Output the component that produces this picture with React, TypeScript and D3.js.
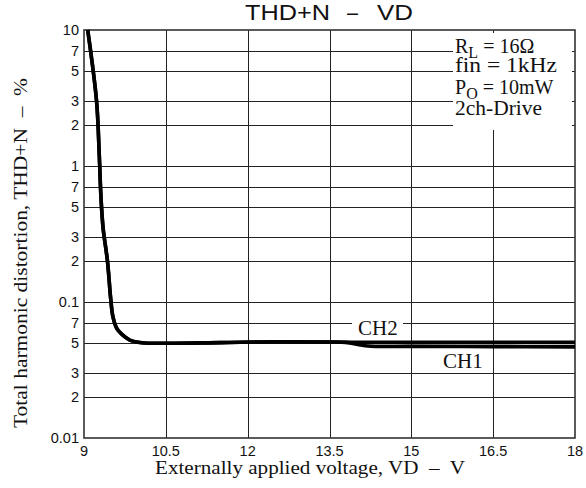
import React from 'react';
import * as d3 from 'd3';

const W = 586, H = 488;
const PL = 84, PR = 575, PT = 30, PB = 438;

const xTicks = [9, 10.5, 12, 13.5, 15, 16.5, 18];
const xTickLabels = ["9", "10.5", "12", "13.5", "15", "16.5", "18"];
const yTicks = [10, 7, 5, 3, 2, 1, 0.7, 0.5, 0.3, 0.2, 0.1, 0.07, 0.05, 0.03, 0.02, 0.01];
const yTickLabels = ["10", "7", "5", "3", "2", "1", "7", "5", "3", "2", "0.1", "7", "5", "3", "2", "0.01"];

const vdShared = [9.068, 9.23, 9.28, 9.31, 9.35, 9.43, 9.49, 9.53, 9.6, 9.7, 9.84, 10.06, 10.5, 11.5, 12.5, 13.5];
const thdShared = [10, 3, 1.2, 0.6, 0.35, 0.2, 0.105, 0.078, 0.064, 0.0575, 0.0525, 0.0502, 0.0497, 0.0503, 0.051, 0.0508];
const vdCh1 = [13.8, 14.2, 15, 16.5, 18];
const thdCh1 = [0.0505, 0.0475, 0.0472, 0.047, 0.0468];
const vdCh2 = [14, 15, 16.5, 18];
const thdCh2 = [0.0505, 0.0505, 0.0505, 0.0505];

const SANS = "'Liberation Sans', Arial, sans-serif";
const SERIF = "'Liberation Serif', 'Times New Roman', serif";

export default function App() {
  const x = d3.scaleLinear().domain([9, 18]).range([PL, PR]);
  const y = d3.scaleLog().domain([0.01, 10]).range([PB, PT]);
  const line = d3.line<[number, number]>().x(d => x(d[0])).y(d => y(d[1])).curve(d3.curveCatmullRom.alpha(0.5));

  const ch1: [number, number][] = [
    ...vdShared.map((v, i) => [v, thdShared[i]] as [number, number]),
    ...vdCh1.map((v, i) => [v, thdCh1[i]] as [number, number]),
  ];
  const ch2: [number, number][] = [
    ...vdShared.map((v, i) => [v, thdShared[i]] as [number, number]),
    ...vdCh2.map((v, i) => [v, thdCh2[i]] as [number, number]),
  ];

  const grid = '#222';
  const pre = { whiteSpace: 'pre' as const };
  return (
    <svg width={W} height={H} style={{ position: 'absolute', left: 0, top: 0, background: '#fff' }}>
      <rect x={0} y={0} width={W} height={H} fill="#fff" />
      {yTicks.slice(1, -1).map((t, i) => (
        <line key={'h' + i} x1={PL} x2={PR} y1={Math.round(y(t)) + 0.5} y2={Math.round(y(t)) + 0.5} stroke={grid} strokeWidth={1} />
      ))}
      {xTicks.slice(1, -1).map((t, i) => (
        <line key={'v' + i} x1={Math.round(x(t)) + 0.5} x2={Math.round(x(t)) + 0.5} y1={PT} y2={PB} stroke={grid} strokeWidth={1} />
      ))}
      <rect x={453} y={33} width={119} height={97} fill="#fff" />
      <rect x={352} y={315} width={51} height={20} fill="#fff" />
      <rect x={PL} y={PT} width={PR - PL} height={PB - PT} fill="none" stroke="#333" strokeWidth={1.6} />
      <path d={line(ch1) || ''} fill="none" stroke="#000" strokeWidth={3.6} strokeLinejoin="round" />
      <path d={line(ch2) || ''} fill="none" stroke="#000" strokeWidth={3.6} strokeLinejoin="round" />
      {yTicks.map((t, i) => (
        <text key={'yl' + i} x={79} y={y(t)} dy="0.36em" textAnchor="end" fontFamily={SANS} fontSize={14.5} fill="#111">{yTickLabels[i]}</text>
      ))}
      {xTicks.map((t, i) => (
        <text key={'xl' + i} x={x(t)} y={456} textAnchor="middle" fontFamily={SANS} fontSize={14.5} fill="#111">{xTickLabels[i]}</text>
      ))}
      <text y={20} fontFamily={SANS} fontSize={22} fill="#111">
        <tspan x={245} textLength={85} lengthAdjust="spacingAndGlyphs">THD+N</tspan>
        <tspan x={347} textLength={11} lengthAdjust="spacingAndGlyphs">–</tspan>
        <tspan x={377} textLength={36} lengthAdjust="spacingAndGlyphs">VD</tspan>
      </text>
      <text x={310} y={474} textAnchor="middle" fontFamily={SERIF} fontSize={19} fill="#111" style={pre} textLength={310} lengthAdjust="spacingAndGlyphs">Externally applied voltage, VD  –  V</text>
      <text transform="translate(27,253) rotate(-90)" textAnchor="middle" fontFamily={SERIF} fontSize={19} fill="#111" style={pre} textLength={350} lengthAdjust="spacingAndGlyphs">Total harmonic distortion, THD+N  –  %</text>
      <g fontFamily={SERIF} fontSize={20} fill="#111">
        <text x={455} y={53}>R<tspan fontSize={16} dy={5}>L</tspan><tspan dy={-5}> = 16Ω</tspan></text>
        <text x={455} y={72} textLength={102} lengthAdjust="spacingAndGlyphs">fin = 1kHz</text>
        <text x={455} y={94}>P<tspan fontSize={16} dy={5}>O</tspan><tspan dy={-5}> = 10mW</tspan></text>
        <text x={455} y={115} textLength={87} lengthAdjust="spacingAndGlyphs">2ch-Drive</text>
      </g>
      <text x={358} y={335} fontFamily={SERIF} fontSize={21} fill="#111">CH2</text>
      <text x={443} y={368} fontFamily={SERIF} fontSize={21} fill="#111">CH1</text>
    </svg>
  );
}
